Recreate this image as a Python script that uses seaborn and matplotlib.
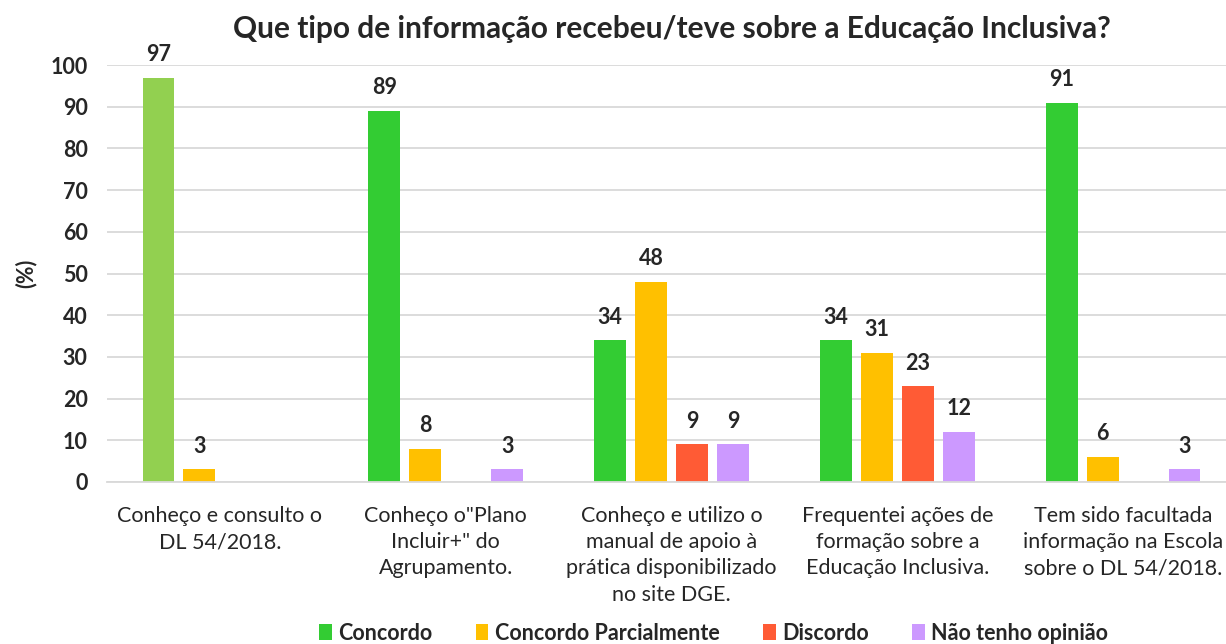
import pandas as pd
import matplotlib
matplotlib.use("Agg")
import matplotlib.pyplot as plt
import seaborn as sns

# Dados
categorias = [
    "Conheço e consulto o\nDL 54/2018.",
    "Conheço o\"Plano\nIncluir+\" do\nAgrupamento.",
    "Conheço e utilizo o\nmanual de apoio à\nprática disponibilizado\nno site DGE.",
    "Frequentei ações de\nformação sobre a\nEducação Inclusiva.",
    "Tem sido facultada\ninformação na Escola\nsobre o DL 54/2018.",
]
respostas = ["Concordo", "Concordo Parcialmente", "Discordo", "Não tenho opinião"]
concordo = [97, 89, 34, 34, 91]
parcialmente = [3, 8, 48, 31, 6]
discordo = [0, 0, 9, 23, 0]
sem_opiniao = [0, 3, 9, 12, 3]

cores = ["#33CC33", "#FFC000", "#FF5B35", "#CC99FF"]
cor_destaque = "#92D050"

sns.set_style("white")
plt.rcParams["font.family"] = ["Lato", "DejaVu Sans"]

rows = []
for serie, valores in zip(respostas, [concordo, parcialmente, discordo, sem_opiniao]):
    for cat, v in zip(categorias, valores):
        rows.append({"categoria": cat, "resposta": serie, "valor": v})
df = pd.DataFrame(rows)

fig = plt.figure(figsize=(12.26, 6.44), dpi=100)
ax = fig.add_axes([107 / 1226, 162 / 644, 1129 / 1226, 417 / 644])

sns.barplot(data=df, x="categoria", y="valor", hue="resposta", hue_order=respostas,
            order=categorias, palette=cores, saturation=1, width=0.725, gap=0.22,
            linewidth=0, ax=ax, legend=True)

# primeira barra com verde mais claro
ax.containers[0].patches[0].set_facecolor(cor_destaque)

for cont in ax.containers:
    for p in cont.patches:
        h = p.get_height()
        if h > 0:
            ax.text(p.get_x() + p.get_width() / 2, h + 3, f"{h:.0f}", ha="center",
                    va="bottom", fontsize=15.5, fontweight="bold")

ax.set_ylim(0, 100)
ax.set_xlim(-0.5, 4.5)
ax.set_yticks(range(0, 101, 10))
ax.yaxis.grid(True, color="#D9D9D9", linewidth=1.3)
ax.set_axisbelow(True)
for s in ["top", "right", "left"]:
    ax.spines[s].set_visible(False)
ax.spines["bottom"].set_color("#D9D9D9")
ax.spines["bottom"].set_linewidth(1.3)
ax.tick_params(axis="both", length=0)
ax.tick_params(axis="y", labelsize=15.5, pad=14)
ax.tick_params(axis="x", labelsize=15.5, pad=17)
for t in ax.get_yticklabels():
    t.set_fontweight("bold")
for t in ax.get_xticklabels():
    t.set_linespacing(1.4)

ax.set_xlabel("")
ax.set_ylabel("(%)", fontsize=15.5, fontweight="bold", labelpad=10)
fig.text(0.548, 0.955, "Que tipo de informação recebeu/teve sobre a Educação Inclusiva?",
         ha="center", va="center", fontsize=21.5, fontweight="bold")

ax.legend(loc="center", bbox_to_anchor=(0.582, 0.017), bbox_transform=fig.transFigure,
          ncol=4, frameon=False, prop={"size": 15.5, "weight": "bold"},
          handlelength=0.6, handleheight=0.7, handletextpad=0.3, columnspacing=2.0)

fig.savefig("out.png", dpi=100)
